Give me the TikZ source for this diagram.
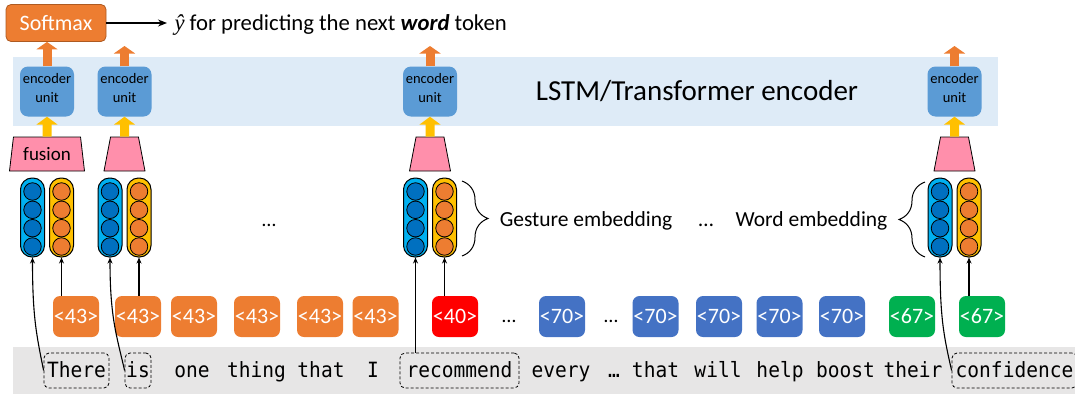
\documentclass[tikz,border=0pt]{standalone}
\usepackage{fontspec}
\setmainfont{Carlito}
\newfontfamily\wordfont[FakeStretch=0.93]{DejaVu Sans Mono}
\newfontfamily\yhatfont{Liberation Serif}
\usepackage{xcolor}
\definecolor{band-blue}{HTML}{DEEBF7}
\definecolor{unit-blue}{HTML}{5B9BD5}
\definecolor{soft-orange}{HTML}{ED7D31}
\definecolor{soft-edge}{HTML}{AE5A21}
\definecolor{up-yellow}{HTML}{FFC000}
\definecolor{fuse-pink}{HTML}{FF8FAB}
\definecolor{gest-blue}{HTML}{00B0F0}
\definecolor{gest-dot}{HTML}{0070C0}
\definecolor{tok-red}{HTML}{FF0000}
\definecolor{tok-blue}{HTML}{4472C4}
\definecolor{tok-green}{HTML}{00B050}
\definecolor{line-grey}{HTML}{E7E6E6}
\usepackage{tikz}
\usetikzlibrary{arrows.meta,shapes.geometric,decorations.pathreplacing}

\tikzset{
  softbox/.style={fill=soft-orange, draw=soft-edge, line width=0.8pt, rounded corners=5pt,
    minimum width=100pt, minimum height=37pt, inner sep=0pt, text=white,
    font=\fontsize{22}{22}\selectfont},
  encunit/.style={fill=unit-blue, rounded corners=8pt, minimum width=54pt, minimum height=50pt,
    inner sep=0pt, align=center, text depth=6.4pt, font=\fontsize{14.5}{19}\selectfont},
  fusebox/.style={trapezium, trapezium left angle=78, trapezium right angle=78,
    trapezium stretches=true, draw=black, line width=0.8pt, fill=fuse-pink,
    minimum width=41pt, minimum height=34pt, inner sep=0pt, font=\fontsize{19}{19}\selectfont},
  embpill/.style={rectangle, draw=black, line width=1pt, rounded corners=11.5pt,
    minimum width=24pt, minimum height=79pt, inner sep=0pt},
  embdot/.style={circle, draw=black, line width=0.8pt, minimum size=17.5pt, inner sep=0pt},
  tokbox/.style={rounded corners=7pt, minimum width=46pt, minimum height=41pt, inner sep=0pt,
    text=white, font=\fontsize{22}{22}\selectfont},
  wordtxt/.style={inner sep=0pt, text height=17pt, text depth=3pt,
    font=\wordfont\fontsize{21}{21}\selectfont},
  wordbox/.style={draw=black, line width=0.8pt, dash pattern=on 3pt off 2pt,
    rounded corners=5pt, minimum height=35pt},
  fatorange/.style={draw=soft-orange, line width=9pt, -{Triangle[width=21pt,length=7.5pt]}},
  fatyellow/.style={draw=up-yellow, line width=9pt, -{Triangle[width=21pt,length=8pt]}},
  inarrow/.style={draw=black, line width=1.1pt, -{Stealth[length=6pt,width=5pt]}},
  embbrace/.style={draw=black, line width=1pt, decorate, decoration={brace, amplitude=26pt}},
  labeltxt/.style={anchor=base, font=\fontsize{21.5}{21.5}\selectfont}
}

\begin{document}
\begin{tikzpicture}[x=1pt,y=-1pt]
\useasboundingbox (0,0) rectangle (1075,394);

% Background bands
\fill[band-blue] (13,57) rectangle (998,126);
\fill[line-grey] (13,347) rectangle (1075,394);

% Softmax and output
\node[softbox] (softmax) at (56,23) {Softmax};
\node[anchor=base west, font=\fontsize{22.7}{22.7}\selectfont] (yhat) at (171,30)
  {{\yhatfont\itshape ŷ} for predicting the next \textbf{\textit{word}} token};
\draw[-{Stealth[length=9pt,width=7pt]}, line width=1.2pt, shorten >=4pt] (softmax.east) -- (softmax.east -| yhat.west);

% Encoder
\node[font=\fontsize{29}{29}\selectfont, anchor=base] (enclabel) at (697,100) {LSTM/Transformer encoder};
\foreach \n/\cx in {1/47,2/124.5,3/430,4/954.5}
  \node[encunit] (enc\n) at (\cx,91.5) {encoder\\unit};

\coordinate (outtop) at (0,46);
\draw[fatorange] (enc1.north) -- (enc1.north |- softmax.south);
\foreach \n in {2,3,4}
  \draw[fatorange] (enc\n.north) -- (enc\n.north |- outtop);

% Fusion
\node[fusebox, minimum width=75pt] (fuse1) at (47,154) {fusion};
\foreach \n/\cx in {2/124.5,3/430,4/954.5}
  \node[fusebox] (fuse\n) at (\cx,154) {\phantom{x}};
\foreach \n in {1,...,4}
  \draw[fatyellow] (fuse\n.north) -- (enc\n.south);

% Gesture and word embeddings
\foreach \n/\cx in {1/47,2/124.5,3/430,4/954.5} {
  \node[embpill, fill=gest-blue] (gemb\n) at (\cx-14.5,217.5) {};
  \node[embpill, fill=up-yellow] (wemb\n) at (\cx+14.5,217.5) {};
  \foreach \yy [count=\k] in {191.5,209.8,228.2,246.5} {
    \node[embdot, fill=gest-dot] (gemb\n-\k) at (\cx-14.5,\yy) {};
    \node[embdot, fill=soft-orange] (wemb\n-\k) at (\cx+14.5,\yy) {};
  }
}
\node[labeltxt, font=\fontsize{20}{20}\selectfont] (gapdots) at (269,226) {…};

% Braces
\draw[embbrace] (462,181) -- (462,256);
\draw[embbrace] (925,257) -- (925,182);
\node[labeltxt] (gestlabel) at (586,226.5) {Gesture embedding};
\node[labeltxt] (labeldots) at (706,226.5) {…};
\node[labeltxt] (wordlabel) at (811.5,226.5) {Word embedding};

% Tokens
\foreach \n/\cx/\col/\v in {1/76/soft-orange/43, 2/138/soft-orange/43, 3/194/soft-orange/43,
    4/257/soft-orange/43, 5/320/soft-orange/43, 6/375.5/soft-orange/43, 7/455/tok-red/40,
    8/562/tok-blue/70, 9/655.5/tok-blue/70, 10/719/tok-blue/70, 11/779.5/tok-blue/70,
    12/842/tok-blue/70, 13/912/tok-green/67, 14/982/tok-green/67}
  \node[tokbox, fill=\col] (tok\n) at (\cx,316.5) {<\v>};
\node[labeltxt, font=\fontsize{20}{20}\selectfont] (tokdots1) at (509,322.5) {…};
\node[labeltxt, font=\fontsize{20}{20}\selectfont] (tokdots2) at (611,322.5) {…};

% Words
\node[wordtxt, wordbox, minimum width=65pt] (wthere) at (76.5,370.5) {There};
\node[wordtxt, wordbox, minimum width=26pt] (wis) at (138,370.5) {is};
\node[wordtxt, wordbox, minimum width=119pt] (wrecommend) at (459.5,370.5) {recommend};
\node[wordtxt, wordbox, minimum width=125pt] (wconfidence) at (1014.5,370.5) {confidence};
\foreach \cx/\w [count=\k] in {192/one, 256.5/thing, 321/that, 373/I, 561/every, 614/…,
    655.5/that, 718/will, 780/help, 845.5/boost, 913/their}
  \node[wordtxt] (w\k) at (\cx,370.5) {\w};

% Inputs to embeddings
\draw[inarrow] (wemb1.south |- tok1.north) -- (wemb1.south);
\draw[inarrow] (wemb2.south |- tok2.north) -- (wemb2.south);
\draw[inarrow] (wemb3.south |- tok7.north) -- (wemb3.south);
\draw[inarrow] (wemb4.south |- tok14.north) -- (wemb4.south);
\draw[inarrow] (wthere.west) .. controls +(-7,-35) and +(0,60) .. (gemb1.south);
\draw[inarrow] (wis.west) .. controls +(-8,-35) and +(0,60) .. (gemb2.south);
\draw[inarrow] (wrecommend.north -| gemb3.south) -- (gemb3.south);
\draw[inarrow] (wconfidence.west) .. controls +(-8,-35) and +(0,60) .. (gemb4.south);

\end{tikzpicture}
\end{document}
